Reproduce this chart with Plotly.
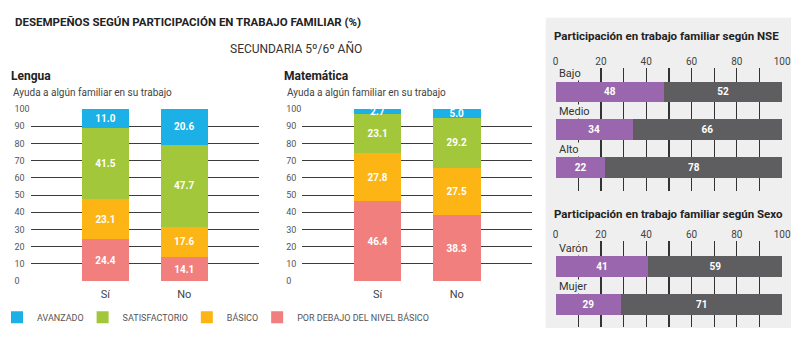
import plotly.graph_objects as go

W, H = 800, 364

# ---------------- data ----------------
groups = ["Sí", "No"]
levels = ["POR DEBAJO DEL NIVEL BÁSICO", "BÁSICO", "SATISFACTORIO", "AVANZADO"]
lengua = {
    "POR DEBAJO DEL NIVEL BÁSICO": [24.4, 14.1],
    "BÁSICO": [23.1, 17.6],
    "SATISFACTORIO": [41.5, 47.7],
    "AVANZADO": [11.0, 20.6],
}
matematica = {
    "POR DEBAJO DEL NIVEL BÁSICO": [46.4, 38.3],
    "BÁSICO": [27.8, 27.5],
    "SATISFACTORIO": [23.1, 29.2],
    "AVANZADO": [2.7, 5.0],
}
level_colors = {
    "POR DEBAJO DEL NIVEL BÁSICO": "#f07f7e",
    "BÁSICO": "#fdb515",
    "SATISFACTORIO": "#a2c73b",
    "AVANZADO": "#1bb0e6",
}
nse_cats = ["Bajo", "Medio", "Alto"]
nse_si = [48, 34, 22]
nse_no = [52, 66, 78]
sexo_cats = ["Varón", "Mujer"]
sexo_si = [41, 29]
sexo_no = [59, 71]
y_ticks = list(range(0, 101, 10))
x_ticks = list(range(0, 101, 20))

PURPLE = "#9a67ae"
DGREY = "#5e5e60"
PANEL = "#efefef"
COND = "Roboto, sans-serif"
BODY = "Roboto, sans-serif"


def px_x(p):
    return p / W


def px_y(p):
    return 1 - p / H


# left-aligned looking tick labels (padded with figure spaces)
y_ticktext = [str(v) + "\u2007" * (3 - len(str(v))) for v in y_ticks]

fig = go.Figure()

# vertical stacked bars
for data, xa, ya, show in [(lengua, "x", "y", True), (matematica, "x2", "y2", False)]:
    for lv in levels:
        fig.add_trace(go.Bar(
            x=groups, y=data[lv], name=lv, xaxis=xa, yaxis=ya,
            marker=dict(color=level_colors[lv], line=dict(width=0)),
            width=0.6, showlegend=show,
            texttemplate="<b>%{y:.1f}</b>", textposition="inside",
            insidetextanchor="middle", textangle=0,
            textfont=dict(color="white", size=10, family=COND),
            hoverinfo="skip",
        ))

# horizontal bars
for cats, si, no, xa, ya in [(nse_cats, nse_si, nse_no, "x3", "y3"),
                             (sexo_cats, sexo_si, sexo_no, "x4", "y4")]:
    for vals, col in [(si, PURPLE), (no, DGREY)]:
        fig.add_trace(go.Bar(
            y=cats, x=vals, orientation="h", xaxis=xa, yaxis=ya,
            marker=dict(color=col, line=dict(width=0)),
            width=0.54, showlegend=False,
            texttemplate="<b>%{x}</b>", textposition="inside",
            insidetextanchor="middle", textangle=0,
            textfont=dict(color="white", size=10, family=COND),
            hoverinfo="skip",
        ))

grid_col = "#3c3c3c"
tickfont = dict(size=9, color="#555", family=BODY)
catfont = dict(size=11, color="#444", family=BODY)

yax = dict(range=[0, 100], tickvals=y_ticks, ticktext=y_ticktext, showgrid=True,
           gridcolor=grid_col, gridwidth=1, zeroline=False, showline=False, ticks="",
           tickfont=tickfont, domain=[px_y(284), px_y(107)], fixedrange=True)
xax = dict(type="category", range=[-0.95, 1.95], showgrid=False, zeroline=False,
           showline=False, ticks="", tickfont=catfont, ticklabelstandoff=5,
           fixedrange=True)

hx = dict(range=[0, 100], side="top", tickvals=x_ticks, showgrid=True,
          gridcolor="#333", gridwidth=1.3, zeroline=False, showline=False, ticks="",
          tickfont=dict(size=10, color="#444", family=BODY),
          minor=dict(dtick=10, showgrid=True, gridcolor="#333", gridwidth=1.3),
          domain=[px_x(561), px_x(791)], fixedrange=True)
hy = dict(type="category", showticklabels=False, showgrid=False, zeroline=False,
          showline=False, ticks="", fixedrange=True)

fig.update_layout(
    width=W, height=H, autosize=False,
    margin=dict(l=0, r=0, t=0, b=0),
    paper_bgcolor="white", plot_bgcolor="rgba(0,0,0,0)",
    barmode="stack", bargap=0,
    uniformtext=dict(minsize=10, mode="show"),
    xaxis=dict(xax, domain=[px_x(28), px_x(260)], anchor="y"),
    yaxis=dict(yax, anchor="x"),
    xaxis2=dict(xax, domain=[px_x(304), px_x(537)], anchor="y2"),
    yaxis2=dict(yax, anchor="x2"),
    xaxis3=dict(hx, anchor="y3"),
    yaxis3=dict(hy, domain=[px_y(191), px_y(65)], anchor="x3",
                range=[2.62, -0.63]),
    xaxis4=dict(hx, anchor="y4"),
    yaxis4=dict(hy, domain=[px_y(331), px_y(243)], anchor="x4",
                range=[1.59, -0.67]),
    legend=dict(orientation="h", traceorder="reversed", x=0, xanchor="left",
                y=px_y(321), yanchor="middle", bgcolor="rgba(0,0,0,0)",
                indentation=-6,
                font=dict(size=9, color="#555", family=BODY)),
    showlegend=True,
)

# right grey panel
fig.add_shape(type="rect", xref="paper", yref="paper",
              x0=px_x(551), x1=1.0, y0=px_y(332), y1=px_y(13),
              fillcolor=PANEL, line=dict(width=0), layer="below")

ann = []


def text(x, y, s, size, family, color, bold=False, anchor="left"):
    ann.append(dict(x=px_x(x), y=px_y(y), xref="paper", yref="paper",
                    text=f"<b>{s}</b>" if bold else s, showarrow=False,
                    xanchor=anchor, yanchor="middle",
                    font=dict(size=size, family=family, color=color)))


text(10, 17, "DESEMPEÑOS SEGÚN PARTICIPACIÓN EN TRABAJO FAMILIAR (%)", 11.5, COND, "#222", True)
text(228, 44, "SECUNDARIA 5º/6º AÑO", 12, COND, "#333")
text(6, 73, "Lengua", 12, COND, "#222", True)
text(8, 90, "Ayuda a algún familiar en su trabajo", 10, BODY, "#444")
text(283, 73, "Matemática", 12, COND, "#222", True)
text(286, 90, "Ayuda a algún familiar en su trabajo", 10, BODY, "#444")
text(557, 32, "Participación en trabajo familiar según NSE", 11.5, COND, "#222", True)
text(557, 215, "Participación en trabajo familiar según Sexo", 11.5, COND, "#222", True)

for cats, xr, yr in [(nse_cats, "x3", "y3"), (sexo_cats, "x4", "y4")]:
    for c in cats:
        ann.append(dict(x=0, y=c, xref=xr, yref=yr, text=c, showarrow=False,
                        xanchor="left", yanchor="middle", xshift=2, yshift=18,
                        bgcolor=PANEL, borderpad=0,
                        font=dict(size=11, family=BODY, color="#333")))

fig.update_layout(annotations=ann)
fig.write_html(
    "out.html",
    config={"displayModeBar": False, "staticPlot": True},
    post_script=("document.body.style.margin='0px';"
                 "document.body.style.overflow='hidden';"),
)
